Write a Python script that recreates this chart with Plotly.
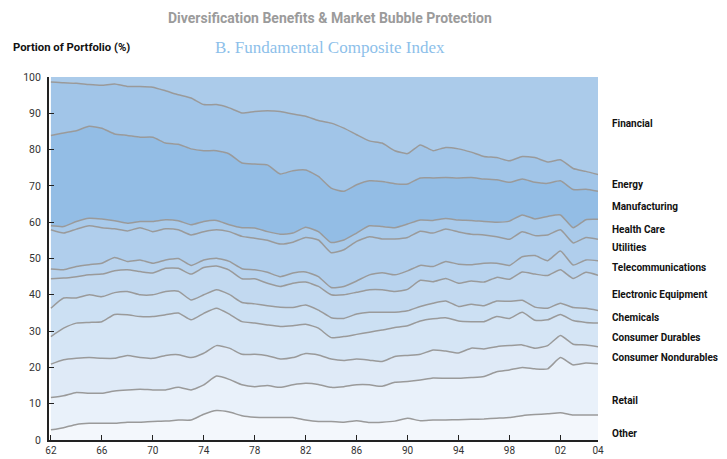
import plotly.graph_objects as go

# ---- data ----
years = list(range(1962, 2005)) + [2004.95]

sectors = ["Other", "Retail", "Consumer Nondurables", "Consumer Durables", "Chemicals",
           "Electronic Equipment", "Telecommunications", "Utilities", "Health Care",
           "Manufacturing", "Energy", "Financial"]

# upper edge of each stacked band (cumulative portion of portfolio, %)
top_other = [2.8, 3.4, 4.3, 4.6, 4.6, 4.6, 4.9, 4.9, 5.1, 5.2,
             5.5, 5.5, 7.1, 8.1, 7.7, 6.7, 6.3, 6.2, 6.2, 6.2,
             5.5, 5.1, 5.1, 4.9, 5.3, 4.8, 4.9, 5.2, 6.0, 5.3,
             5.5, 5.5, 5.6, 5.7, 5.8, 6.0, 6.2, 6.7, 7.0, 7.2,
             7.5, 6.9, 6.9, 6.9]
top_retail = [11.7, 12.2, 13.1, 12.9, 12.9, 13.5, 13.8, 14.0, 13.8, 13.8,
              14.5, 13.8, 15.2, 17.6, 16.7, 15.2, 14.7, 15.0, 14.5, 15.2,
              15.6, 15.3, 14.5, 14.7, 15.2, 15.2, 14.8, 15.9, 16.1, 16.5,
              17.1, 17.0, 17.0, 17.2, 17.5, 18.8, 19.3, 20.0, 19.6, 19.6,
              22.7, 20.7, 21.2, 21.0]
top_nondurables = [20.9, 22.1, 22.5, 22.7, 22.5, 22.5, 23.3, 22.7, 22.5, 23.3,
                   23.5, 22.7, 23.9, 26.0, 25.3, 23.6, 23.6, 23.2, 22.3, 22.7,
                   23.8, 23.4, 22.3, 21.9, 22.3, 22.0, 21.6, 23.0, 23.3, 23.6,
                   24.8, 24.5, 24.0, 25.3, 25.1, 25.7, 26.0, 26.2, 25.3, 26.0,
                   28.8, 26.4, 26.2, 25.7]
top_durables = [28.5, 30.8, 32.2, 32.4, 32.6, 34.6, 34.5, 34.0, 34.0, 34.5,
                35.0, 33.1, 34.9, 36.3, 34.7, 32.6, 32.2, 31.7, 31.3, 31.5,
                31.9, 30.8, 28.2, 28.5, 29.1, 29.7, 30.3, 31.0, 31.5, 32.8,
                33.4, 33.7, 32.8, 32.6, 32.6, 34.0, 33.5, 35.2, 33.0, 33.1,
                34.6, 32.9, 32.4, 32.2]
top_chemicals = [36.3, 39.1, 39.1, 40.0, 39.5, 40.6, 40.9, 40.0, 40.0, 40.9,
                 41.0, 38.6, 40.0, 41.4, 40.1, 37.9, 37.5, 37.0, 36.6, 36.5,
                 37.2, 35.8, 33.7, 33.5, 34.7, 35.2, 35.2, 35.2, 35.6, 36.8,
                 37.7, 38.3, 36.8, 37.4, 37.0, 38.3, 38.2, 38.5, 36.6, 36.3,
                 37.7, 36.5, 36.3, 35.7]
top_electronic = [44.4, 44.6, 45.0, 45.5, 45.7, 46.6, 46.9, 46.4, 46.0, 47.3,
                  47.3, 45.7, 47.5, 47.9, 46.8, 44.4, 44.4, 43.2, 42.3, 43.2,
                  43.5, 42.3, 40.0, 40.0, 40.7, 41.4, 41.4, 40.9, 41.5, 44.0,
                  43.6, 44.5, 43.2, 43.8, 43.5, 44.8, 44.3, 46.3, 45.7, 45.3,
                  46.9, 44.5, 46.2, 45.4]
top_telecom = [47.1, 46.9, 47.8, 48.3, 48.7, 50.3, 49.2, 49.6, 48.7, 49.6,
               50.0, 48.1, 49.6, 50.1, 49.2, 47.2, 46.9, 46.2, 45.0, 46.0,
               46.3, 45.0, 42.0, 42.3, 43.8, 45.5, 46.1, 45.5, 46.6, 48.1,
               47.8, 49.2, 48.4, 48.3, 48.7, 48.7, 48.1, 50.5, 50.8, 49.4,
               52.1, 48.2, 49.6, 49.4]
top_utilities = [57.9, 57.0, 58.1, 59.0, 58.5, 58.2, 57.6, 58.5, 57.4, 58.2,
                 57.9, 56.5, 57.4, 57.9, 57.4, 56.1, 55.6, 55.0, 54.0, 54.5,
                 55.8, 55.1, 51.6, 52.4, 54.7, 56.0, 55.4, 55.4, 55.8, 57.5,
                 57.0, 58.1, 57.3, 56.7, 56.5, 56.0, 55.3, 57.4, 56.3, 56.5,
                 57.9, 54.3, 55.8, 55.3]
top_health = [59.0, 58.8, 60.2, 61.1, 60.9, 60.4, 59.7, 60.2, 60.2, 60.7,
              60.4, 59.3, 60.2, 60.5, 59.3, 58.5, 58.4, 57.4, 56.7, 57.0,
              58.6, 57.4, 54.4, 55.1, 57.0, 59.0, 58.8, 58.5, 59.5, 60.6,
              60.5, 61.0, 60.6, 60.5, 60.2, 60.0, 60.3, 62.0, 60.9, 61.6,
              62.0, 58.5, 60.7, 60.8]
top_manufacturing = [83.9, 84.6, 85.2, 86.4, 85.9, 84.3, 83.9, 83.4, 83.4, 81.8,
                     81.5, 80.2, 79.7, 79.7, 78.8, 76.3, 76.0, 75.8, 73.3, 74.2,
                     74.4, 72.6, 69.4, 68.5, 70.3, 71.4, 71.2, 70.6, 70.5, 72.2,
                     72.2, 72.3, 72.2, 72.3, 71.9, 71.7, 71.0, 71.9, 71.0, 70.7,
                     71.4, 69.0, 69.1, 68.5]
top_energy = [98.6, 98.4, 98.3, 97.9, 97.7, 98.1, 97.4, 97.4, 97.2, 96.2,
              95.1, 94.2, 92.4, 92.4, 91.5, 90.1, 90.5, 90.7, 90.5, 89.8,
              89.2, 88.0, 87.3, 85.9, 84.1, 82.4, 81.8, 79.7, 78.9, 81.3,
              79.7, 80.6, 80.2, 79.3, 78.1, 77.8, 76.9, 78.1, 77.8, 76.6,
              77.2, 74.8, 74.0, 73.1]
top_financial = [100.0] * len(years)

tick_years = [1962, 1966, 1970, 1974, 1978, 1982, 1986, 1990, 1994, 1998, 2002, 2004.95]
tick_labels = ["62", "66", "70", "74", "78", "82", "86", "90", "94", "98", "02", "04"]

# ---- styling ----
tops = [top_other, top_retail, top_nondurables, top_durables, top_chemicals,
        top_electronic, top_telecom, top_utilities, top_health,
        top_manufacturing, top_energy, top_financial]
fills = ["#f3f7fc", "#e9f1fa", "#dfeaf7", "#d5e5f5", "#cce0f3", "#c2d9f0",
         "#b8d3ee", "#b0ceec", "#a9caea", "#93bde5", "#a1c5e8", "#abcbea"]
label_y = [1.8, 10.8, 22.7, 28.3, 33.8, 40.0, 47.5, 53.0, 58.1, 64.3, 70.5, 87.1]

SANS = "Roboto, Liberation Sans, Arial, sans-serif"

fig = go.Figure()
for i, (name, ys) in enumerate(zip(sectors, tops)):
    last = (i == len(sectors) - 1)
    fig.add_trace(go.Scatter(
        x=years, y=ys, name=name, mode="lines",
        fill="tozeroy" if i == 0 else "tonexty",
        fillcolor=fills[i],
        line=dict(color="#9a9a9a", width=0 if last else 1.5,
                  shape="spline", smoothing=0.5),
        hoverinfo="skip", showlegend=False))

ann = []
for name, yv in zip(sectors, label_y):
    ann.append(dict(text=name, xref="paper", yref="y", x=1.021, y=yv,
                    xanchor="left", yanchor="middle", showarrow=False,
                    font=dict(family=SANS, size=10, color="#111", weight="bold")))
ann.append(dict(text="Diversification Benefits & Market Bubble Protection",
                xref="paper", yref="paper", x=0.511, y=1.163, xanchor="center",
                yanchor="middle", showarrow=False,
                font=dict(family=SANS, size=14, color="#9b9b9b", weight="bold")))
ann.append(dict(text="Portion of Portfolio (%)", xref="paper", yref="paper",
                x=-0.0692, y=1.081, xanchor="left", yanchor="middle", showarrow=False,
                font=dict(family=SANS, size=11.3, color="#111", weight="bold")))
ann.append(dict(text="B. Fundamental Composite Index", xref="paper", yref="paper",
                x=0.298, y=1.081, xanchor="left", yanchor="middle", showarrow=False,
                font=dict(family="Liberation Serif, DejaVu Serif, serif", size=17,
                          color="#8dbfea")))

fig.update_layout(
    template="none",
    width=727, height=459,
    margin=dict(l=49, r=129, t=77, b=19, pad=0),
    paper_bgcolor="white", plot_bgcolor="white",
    annotations=ann,
    xaxis=dict(range=[1961.85, 2004.95], tickvals=tick_years, ticktext=tick_labels,
               showline=True, linecolor="#222", linewidth=1.5, ticks="inside",
               ticklen=5, tickcolor="#222", tickwidth=1.2, showgrid=False,
               zeroline=False, automargin=False, ticklabelstandoff=0,
               tickfont=dict(family=SANS, size=10, color="#333")),
    yaxis=dict(range=[0, 100], tickvals=list(range(0, 101, 10)),
               showline=True, linecolor="#222", linewidth=2, ticks="inside",
               ticklen=5, tickcolor="#222", tickwidth=1.2, showgrid=False,
               zeroline=False, automargin=False, ticklabelstandoff=4,
               tickfont=dict(family=SANS, size=10.5, color="#333")),
)

fig.write_html("out.html",
               config={"displayModeBar": False},
               post_script="document.body.style.margin='0px';"
                           "document.body.style.overflow='hidden';")
